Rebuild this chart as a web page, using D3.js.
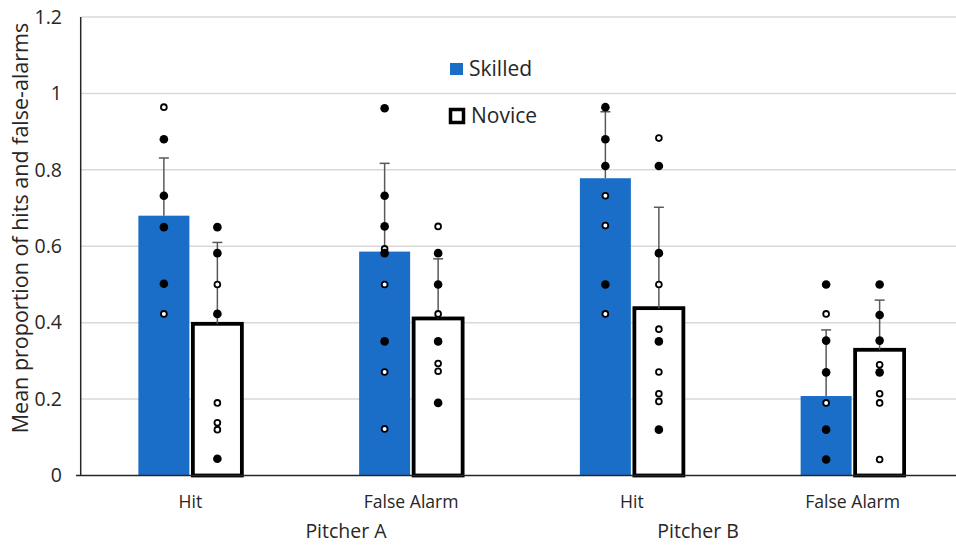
<!DOCTYPE html>
<html>
<head>
<meta charset="utf-8">
<script src="https://cdn.jsdelivr.net/npm/d3@7"></script>
<style>
  body { margin: 0; background: #fff; }
  svg { font-family: "Open Sans", sans-serif; }
</style>
</head>
<body>
<svg id="chart" width="956" height="545"></svg>
<script>
// categories
const categories = ["Hit", "False Alarm", "Hit", "False Alarm"];
const pitchers = ["Pitcher A", "Pitcher B"];
const yTicks = [0, 0.2, 0.4, 0.6, 0.8, 1, 1.2];

// bar means and upper error
const skilledMeans = [0.68, 0.586, 0.778, 0.208];
const noviceMeans = [0.397, 0.411, 0.438, 0.329];
const skilledErr = [0.151, 0.231, 0.174, 0.173];
const noviceErr = [0.213, 0.156, 0.264, 0.130];

// individual points: [value, filled (1) or open (0)]
const skilledDots = [
    [[0.964, 0], [0.88, 1], [0.732, 1], [0.65, 1], [0.502, 1], [0.423, 0]],
    [[0.961, 1], [0.732, 1], [0.652, 1], [0.593, 0], [0.582, 1], [0.50, 0], [0.351, 1], [0.271, 0], [0.122, 0]],
    [[0.964, 1], [0.88, 1], [0.81, 1], [0.732, 0], [0.654, 0], [0.50, 1], [0.423, 0]],
    [[0.50, 1], [0.423, 0], [0.353, 1], [0.27, 1], [0.19, 0], [0.12, 1], [0.042, 1]]
];
const noviceDots = [
    [[0.65, 1], [0.582, 1], [0.50, 0], [0.423, 1], [0.19, 0], [0.138, 0], [0.12, 0], [0.044, 1]],
    [[0.652, 0], [0.582, 1], [0.50, 1], [0.423, 0], [0.351, 1], [0.293, 0], [0.273, 0], [0.19, 1]],
    [[0.883, 0], [0.81, 1], [0.582, 1], [0.50, 0], [0.383, 0], [0.351, 1], [0.271, 0], [0.214, 0], [0.194, 0], [0.12, 1]],
    [[0.50, 1], [0.42, 1], [0.353, 1], [0.29, 0], [0.27, 1], [0.214, 0], [0.19, 0], [0.042, 0]]
];

const blue = "#1a6ec8";
const textCol = "#262626";

const chart = d3.select("#chart");
const x = d3.scaleBand().domain(d3.range(categories.length)).range([80, 963]);
const y = d3.scaleLinear().domain([0, 1.2]).range([475.5, 17]);
const bw = x.bandwidth();
const cx = i => x(i) + bw / 2;

// gridlines
chart.append("g").selectAll("line")
    .data(yTicks.slice(1)).enter()
    .append("line")
    .attr("x1", 81).attr("x2", 956)
    .attr("y1", d => y(d)).attr("y2", d => y(d))
    .attr("stroke", "#d9d9d9").attr("stroke-width", 1.5);

// y tick labels
chart.append("g").selectAll("text")
    .data(yTicks).enter()
    .append("text")
    .attr("x", 62).attr("y", d => y(d))
    .attr("dy", "0.35em")
    .attr("text-anchor", "end")
    .attr("fill", textCol)
    .style("font-size", "19.5px")
    .text(d => d);

// y axis label
chart.append("text")
    .attr("transform", "translate(28," + 228 + ") rotate(-90)")
    .attr("text-anchor", "middle")
    .attr("fill", textCol)
    .style("font-size", "21.5px")
    .text("Mean proportion of hits and false-alarms");

// skilled bars
chart.append("g").selectAll("rect")
    .data(skilledMeans).enter()
    .append("rect")
    .attr("x", (d, i) => cx(i) - 52)
    .attr("width", 51)
    .attr("y", d => y(d))
    .attr("height", d => y(0) - y(d))
    .attr("fill", blue);

// novice bars
chart.append("g").selectAll("rect")
    .data(noviceMeans).enter()
    .append("rect")
    .attr("x", (d, i) => cx(i) + 2.5)
    .attr("width", 49)
    .attr("y", d => y(d))
    .attr("height", d => y(0) - y(d))
    .attr("fill", "#fff")
    .attr("stroke", "#000")
    .attr("stroke-width", 3.8);

// axes lines
chart.append("line").attr("x1", 80.7).attr("x2", 80.7).attr("y1", 17).attr("y2", 476)
    .attr("stroke", "#262626").attr("stroke-width", 1.5);
chart.append("line").attr("x1", 76).attr("x2", 956).attr("y1", 475.5).attr("y2", 475.5)
    .attr("stroke", "#262626").attr("stroke-width", 1.5);

// error bars
function errorBars(means, errs, off) {
    const g = chart.append("g").attr("stroke", "#595959").attr("stroke-width", 1.5);
    means.forEach((m, i) => {
        const xc = cx(i) + off;
        g.append("line").attr("x1", xc).attr("x2", xc).attr("y1", y(m)).attr("y2", y(m + errs[i]));
        g.append("line").attr("x1", xc - 5).attr("x2", xc + 5).attr("y1", y(m + errs[i])).attr("y2", y(m + errs[i]));
    });
}
errorBars(skilledMeans, skilledErr, -26.5);
errorBars(noviceMeans, noviceErr, 27);

// points
function dots(list, off) {
    list.forEach((pts, i) => {
        chart.append("g").selectAll("circle")
            .data(pts).enter()
            .append("circle")
            .attr("cx", cx(i) + off)
            .attr("cy", d => y(d[0]))
            .attr("r", d => d[1] ? 4.3 : 2.9)
            .attr("fill", d => d[1] ? "#000" : "#fff")
            .attr("stroke", "#000")
            .attr("stroke-width", d => d[1] ? 0 : 1.8);
    });
}
dots(skilledDots, -26.5);
dots(noviceDots, 27);

// category labels
chart.append("g").selectAll("text")
    .data(categories).enter()
    .append("text")
    .attr("x", (d, i) => cx(i))
    .attr("y", 508)
    .attr("text-anchor", "middle")
    .attr("fill", textCol)
    .style("font-size", "17.6px")
    .text(d => d);

// pitcher labels
const pitcherX = [cx(0) + bw * 0.705, cx(2) + bw * 0.3];
chart.append("g").selectAll("text")
    .data(pitchers).enter()
    .append("text")
    .attr("x", (d, i) => pitcherX[i])
    .attr("y", 538)
    .attr("text-anchor", "middle")
    .attr("fill", textCol)
    .style("font-size", "19.5px")
    .text(d => d);

// legend
chart.append("rect").attr("x", 450).attr("y", 63).attr("width", 13).attr("height", 12).attr("fill", blue);
chart.append("text").attr("x", 469).attr("y", 69).attr("dy", "0.35em")
    .attr("fill", textCol).style("font-size", "21px").text("Skilled");
chart.append("rect").attr("x", 450.5).attr("y", 109.5).attr("width", 13).attr("height", 13)
    .attr("fill", "#fff").attr("stroke", "#000").attr("stroke-width", 3.5);
chart.append("text").attr("x", 471).attr("y", 116).attr("dy", "0.35em")
    .attr("fill", textCol).style("font-size", "21px").text("Novice");
</script>
</body>
</html>
